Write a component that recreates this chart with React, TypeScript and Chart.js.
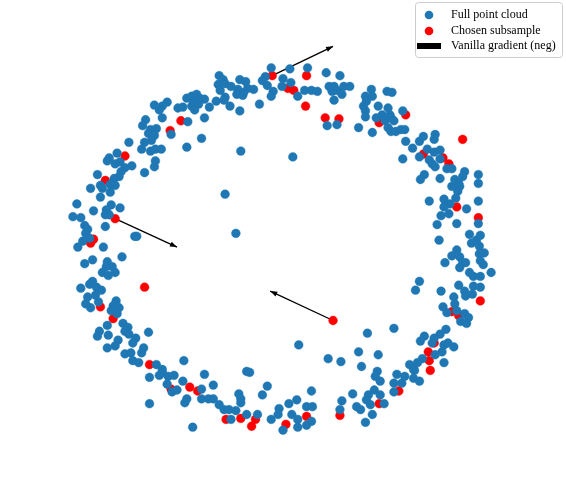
import React, { useEffect, useRef } from "react";
import { Chart, registerables } from "chart.js";

Chart.register(...registerables);

// Point cloud coordinates (same units as the axes)
const bluePoints: number[][] = [
  [218,72],[222,76],[217,81],[224,80],[239,76],[245,78],[230,83],[219,87],[237,86],[243,89],[236,91],[242,92],[247,85],[224,94],[223,97],[215,98],[229,103],[239,108],[185,95],[190,93],[195,91],[198,95],[203,96],[192,99],[197,101],[190,103],[193,107],[176,105],[181,104],[208,104],[165,99],[160,103],[157,107],[152,102],[160,115],[186,119],[203,115],[169,132],[143,117],[140,123],[148,127],[154,126],[146,131],[152,133],[142,140],[149,138],[126,140],[139,147],[148,149],[153,147],[159,147],[200,136],[185,145],[240,149],[114,151],[106,156],[104,159],[112,162],[117,160],[122,166],[129,164],[118,170],[116,175],[111,177],[153,159],[152,165],[142,171],[94,173],[97,184],[99,187],[107,183],[112,184],[107,191],[97,196],[87,187],[224,193],[73,203],[108,204],[103,209],[102,214],[106,214],[117,207],[90,210],[69,216],[77,217],[81,225],[84,229],[82,233],[86,238],[102,226],[132,236],[134,236],[235,233],[79,241],
  [271,64],[265,73],[262,77],[267,82],[253,86],[259,101],[273,88],[271,93],[283,75],[282,83],[290,65],[291,79],[298,93],[308,64],[305,87],[312,87],[318,88],[327,69],[341,72],[330,83],[335,83],[333,88],[338,87],[343,91],[335,97],[345,83],[351,83],[328,123],[338,122],[360,125],[373,86],[367,93],[374,93],[368,98],[365,103],[367,108],[367,114],[389,88],[394,89],[380,103],[390,105],[392,112],[384,112],[378,115],[387,118],[393,115],[396,118],[390,125],[393,129],[398,129],[403,127],[407,127],[405,108],[374,130],[408,139],[415,146],[422,139],[426,134],[438,132],[437,137],[422,155],[430,147],[437,150],[443,148],[432,158],[435,162],[438,165],[443,157],[405,157],[450,167],[455,167],[443,177],[427,173],[423,178],[468,170],[466,175],[458,178],[462,182],[455,185],[463,185],[461,190],[482,173],[482,182],[459,197],[447,198],[453,203],[447,206],[470,208],[482,200],[432,200],[444,215],[452,213],[482,223],[440,224],[460,223],[293,155],
  [74,247],[100,247],[119,257],[81,264],[89,260],[104,262],[103,267],[109,267],[99,273],[105,276],[112,273],[86,285],[89,282],[77,289],[93,288],[98,291],[92,296],[84,298],[82,305],[87,309],[95,303],[113,302],[110,307],[116,309],[108,312],[114,315],[104,327],[120,325],[125,329],[122,333],[126,336],[133,340],[130,345],[141,350],[139,355],[146,334],[96,333],[94,338],[105,337],[115,342],[112,348],[104,350],[122,356],[128,355],[130,363],[136,365],[154,367],[160,372],[147,380],[157,378],[166,379],[172,378],[160,375],[170,395],[165,387],[175,393],[181,384],[182,363],[200,392],[203,377],[212,388],[185,402],[183,406],[200,402],[207,402],[212,402],[218,408],[223,413],[228,413],[235,414],[238,397],[240,402],[240,406],[246,374],[249,375],[230,423],[246,418],[257,418],[267,389],[262,398],[147,407],[191,431],[271,423],[279,412],[278,418],
  [442,240],[473,234],[480,240],[484,235],[475,243],[483,246],[460,250],[455,256],[463,257],[466,263],[469,263],[463,268],[448,263],[483,254],[488,253],[484,261],[487,265],[473,273],[477,277],[484,277],[495,273],[422,282],[418,291],[462,286],[468,292],[477,287],[476,295],[469,297],[484,288],[444,292],[457,298],[446,308],[458,305],[460,312],[450,314],[468,315],[472,319],[464,323],[470,325],[449,331],[443,336],[437,340],[427,338],[423,343],[435,345],[447,347],[451,345],[457,349],[445,354],[438,357],[425,361],[420,365],[412,367],[416,372],[417,373],[447,365],[407,379],[399,377],[416,381],[422,384],[396,386],[404,386],[396,395],[382,384],[379,374],[377,379],[376,393],[370,398],[382,398],[343,404],[368,403],[372,408],[358,410],[362,413],[386,407],[354,397],[341,413],[374,418],[367,426],[312,394],[297,403],[289,407],[307,410],[313,410],[292,418],[298,423],[312,425],[307,429],[298,431],[283,434],[369,335],[396,330],[360,354],[380,357],[363,369],[329,361],[342,364],[299,347]
];

const redPoints: number[][] = [
  [179,118],[168,128],[122,154],[102,179],[112,218],[90,239],[87,243],
  [272,72],[288,85],[294,87],[307,72],[306,103],[326,115],[340,116],[381,120],[408,112],[466,137],[426,152],[446,156],[452,162],[460,206],[482,217],
  [142,288],[97,308],[110,320],[147,367],[169,392],[188,390],[196,394],[225,423],[240,422],[255,423],[251,430],
  [484,302],[455,313],[462,317],[437,345],[431,354],[432,363],[433,373],[401,394],[381,407],[341,419],[307,420],[286,428],[334,322]
];

// Negative vanilla gradient arrows (tail -> head)
const arrowTails: number[][] = [[272,72],[112,218],[334,322]];
const arrowHeads: number[][] = [[334,42],[175,247],[270,292]];

const legendLabels: string[] = ["Full point cloud", "Chosen subsample", "Vanilla gradient (neg)"];

const X_RANGE = [0, 566];
const Y_RANGE = [0, 499];

const BLUE = "#1f77b4";
const RED = "#ff0000";
const FONT = "'Liberation Serif', 'DejaVu Serif', serif";

const toXY = (arr: number[][]) => arr.map(([x, y]) => ({ x, y }));

const arrowHeadPlugin = {
  id: "arrowHeads",
  afterDatasetsDraw(chart: any) {
    const ctx = chart.ctx;
    chart.data.datasets.forEach((ds: any, i: number) => {
      if (!ds.isArrow) return;
      const meta = chart.getDatasetMeta(i);
      const [p0, p1] = meta.data;
      if (!p0 || !p1) return;
      const ang = Math.atan2(p1.y - p0.y, p1.x - p0.x);
      const L = 7, W = 2.6;
      ctx.save();
      ctx.fillStyle = "#000";
      ctx.beginPath();
      ctx.moveTo(p1.x, p1.y);
      ctx.lineTo(p1.x - L * Math.cos(ang) + W * Math.sin(ang), p1.y - L * Math.sin(ang) - W * Math.cos(ang));
      ctx.lineTo(p1.x - L * Math.cos(ang) - W * Math.sin(ang), p1.y - L * Math.sin(ang) + W * Math.cos(ang));
      ctx.closePath();
      ctx.fill();
      ctx.restore();
    });
  },
};

const legendPlugin = {
  id: "boxLegend",
  afterDraw(chart: any) {
    const ctx = chart.ctx;
    const bx = 415, by = 2, bw = 147, bh = 55, r = 3;
    ctx.save();
    ctx.fillStyle = "rgba(255,255,255,0.85)";
    ctx.strokeStyle = "#cccccc";
    ctx.lineWidth = 1;
    ctx.beginPath();
    ctx.moveTo(bx + r + 0.5, by + 0.5);
    ctx.lineTo(bx + bw - r + 0.5, by + 0.5);
    ctx.arcTo(bx + bw + 0.5, by + 0.5, bx + bw + 0.5, by + r + 0.5, r);
    ctx.lineTo(bx + bw + 0.5, by + bh - r + 0.5);
    ctx.arcTo(bx + bw + 0.5, by + bh + 0.5, bx + bw - r + 0.5, by + bh + 0.5, r);
    ctx.lineTo(bx + r + 0.5, by + bh + 0.5);
    ctx.arcTo(bx + 0.5, by + bh + 0.5, bx + 0.5, by + bh - r + 0.5, r);
    ctx.lineTo(bx + 0.5, by + r + 0.5);
    ctx.arcTo(bx + 0.5, by + 0.5, bx + r + 0.5, by + 0.5, r);
    ctx.closePath();
    ctx.fill();
    ctx.stroke();

    const rows = [15, 31, 46];
    ctx.fillStyle = BLUE;
    ctx.beginPath(); ctx.arc(429, rows[0], 4.3, 0, Math.PI * 2); ctx.fill();
    ctx.fillStyle = RED;
    ctx.beginPath(); ctx.arc(429, rows[1], 4.3, 0, Math.PI * 2); ctx.fill();
    ctx.fillStyle = "#000";
    ctx.fillRect(417, rows[2] - 3, 24, 6);

    ctx.fillStyle = "#000";
    ctx.font = `12px ${FONT}`;
    ctx.textBaseline = "middle";
    ctx.textAlign = "left";
    legendLabels.forEach((t, i) => ctx.fillText(t, 451, rows[i]));
    ctx.restore();
  },
};

export default function App() {
  const ref = useRef<HTMLCanvasElement>(null);

  useEffect(() => {
    if (!ref.current) return;
    const allPts = [...bluePoints, ...redPoints];
    const arrowSets = arrowTails.map((t, i) => ({
      type: "line" as const,
      isArrow: true,
      data: toXY([t, arrowHeads[i]]),
      borderColor: "#000",
      borderWidth: 1.3,
      pointRadius: 0,
      showLine: true,
      fill: false,
      tension: 0,
    }));
    const chart = new Chart(ref.current, {
      type: "scatter",
      data: {
        datasets: [
          {
            label: legendLabels[0],
            data: toXY(bluePoints),
            backgroundColor: BLUE,
            borderColor: "rgba(31,119,180,0.5)",
            borderWidth: 0.8,
            pointRadius: 4.4,
          },
          {
            label: legendLabels[1],
            data: toXY(redPoints),
            backgroundColor: RED,
            borderColor: "rgba(255,0,0,0.5)",
            borderWidth: 0.8,
            pointRadius: 4.4,
          },
          {
            label: "grad-dots",
            data: toXY(allPts),
            backgroundColor: "rgba(0,0,0,0.9)",
            borderWidth: 0,
            pointRadius: 0.9,
          },
          ...(arrowSets as any[]),
        ],
      },
      options: {
        animation: false,
        responsive: false,
        events: [],
        layout: { padding: 0 },
        plugins: { legend: { display: false }, tooltip: { enabled: false } },
        scales: {
          x: { type: "linear", min: X_RANGE[0], max: X_RANGE[1], display: false },
          y: { type: "linear", min: Y_RANGE[0], max: Y_RANGE[1], reverse: true, display: false },
        },
      },
      plugins: [arrowHeadPlugin, legendPlugin],
    } as any);
    return () => chart.destroy();
  }, []);

  return (
    <div style={{ position: "absolute", left: 0, top: 0, width: 566, height: 499, background: "#fff" }}>
      <canvas ref={ref} width={566} height={499} style={{ display: "block" }} />
    </div>
  );
}
